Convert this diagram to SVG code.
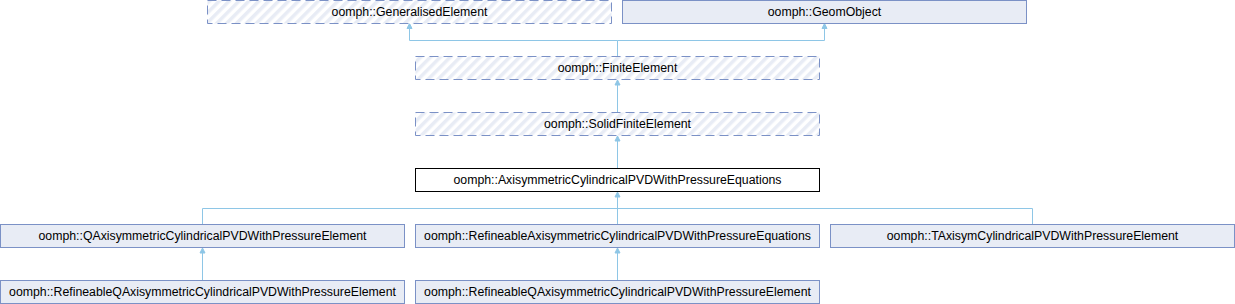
<svg xmlns="http://www.w3.org/2000/svg" width="1235" height="304" viewBox="0 0 1235 304">
<style>
.node{fill:#E8ECF5;stroke:#7B91C6;stroke-width:1}
.virt{fill:url(#hatch);stroke:#7B91C6;stroke-width:1;stroke-dasharray:9,5}
.main{fill:#FFFFFF;stroke:#000000;stroke-width:1}
.lbl{font-family:"Liberation Sans",Arial,sans-serif;font-size:12.3px;fill:#000000;text-anchor:middle}
.edge{fill:none;stroke:#8EC6E6;stroke-width:1}
.head{fill:#8EC6E6;stroke:#8EC6E6;stroke-width:1}
</style>
<defs>
<pattern id="hatch" patternUnits="userSpaceOnUse" width="7" height="7" patternTransform="rotate(45)">
<rect x="0" y="0" width="7" height="7" fill="#FFFFFF"/>
<rect x="0" y="0" width="3.5" height="7" fill="#E8ECF5"/>
</pattern>
</defs>
<g id="connectors">
<polyline class="edge" points="617.5,56.5 617.5,40.5 409.5,40.5 409.5,28"/>
<polygon class="head" points="409.5,23.5 407,28.5 412,28.5"/>
<polyline class="edge" points="617.5,40.5 824.5,40.5 824.5,28"/>
<polygon class="head" points="824.5,23.5 822,28.5 827,28.5"/>
<line class="edge" x1="617.5" y1="112.5" x2="617.5" y2="84.5"/>
<polygon class="head" points="617.5,80 615,85 620,85"/>
<line class="edge" x1="617.5" y1="168.5" x2="617.5" y2="140.5"/>
<polygon class="head" points="617.5,136 615,141 620,141"/>
<polyline class="edge" points="202.5,224.5 202.5,208.5 1032.5,208.5 1032.5,224.5"/>
<line class="edge" x1="617.5" y1="224.5" x2="617.5" y2="196.5"/>
<polygon class="head" points="617.5,192 615,197 620,197"/>
<line class="edge" x1="202.5" y1="280.5" x2="202.5" y2="252.5"/>
<polygon class="head" points="202.5,248 200,253 205,253"/>
<line class="edge" x1="617.5" y1="280.5" x2="617.5" y2="252.5"/>
<polygon class="head" points="617.5,248 615,253 620,253"/>
</g>
<g id="node_GeneralisedElement">
<rect class="virt" x="207.5" y="0.5" width="404" height="23"/>
<text class="lbl" x="409.5" y="16">oomph::GeneralisedElement</text>
</g>
<g id="node_GeomObject">
<rect class="node" x="622.5" y="0.5" width="404" height="23"/>
<text class="lbl" x="824.5" y="16">oomph::GeomObject</text>
</g>
<g id="node_FiniteElement">
<rect class="virt" x="415.5" y="56.5" width="404" height="23"/>
<text class="lbl" x="617.5" y="72">oomph::FiniteElement</text>
</g>
<g id="node_SolidFiniteElement">
<rect class="virt" x="415.5" y="112.5" width="404" height="23"/>
<text class="lbl" x="617.5" y="128">oomph::SolidFiniteElement</text>
</g>
<g id="node_AxisymmetricCylindricalPVDWithPressureEquations">
<rect class="main" x="415.5" y="168.5" width="404" height="23"/>
<text class="lbl" x="617.5" y="184">oomph::AxisymmetricCylindricalPVDWithPressureEquations</text>
</g>
<g id="node_QAxisymmetricCylindricalPVDWithPressureElement">
<rect class="node" x="0.5" y="224.5" width="404" height="23"/>
<text class="lbl" x="202.5" y="240">oomph::QAxisymmetricCylindricalPVDWithPressureElement</text>
</g>
<g id="node_RefineableAxisymmetricCylindricalPVDWithPressureEquations">
<rect class="node" x="415.5" y="224.5" width="404" height="23"/>
<text class="lbl" x="617.5" y="240">oomph::RefineableAxisymmetricCylindricalPVDWithPressureEquations</text>
</g>
<g id="node_TAxisymCylindricalPVDWithPressureElement">
<rect class="node" x="830.5" y="224.5" width="404" height="23"/>
<text class="lbl" x="1032.5" y="240">oomph::TAxisymCylindricalPVDWithPressureElement</text>
</g>
<g id="node_RefineableQAxisymmetricCylindricalPVDWithPressureElement_1">
<rect class="node" x="0.5" y="280.5" width="404" height="23"/>
<text class="lbl" x="202.5" y="296">oomph::RefineableQAxisymmetricCylindricalPVDWithPressureElement</text>
</g>
<g id="node_RefineableQAxisymmetricCylindricalPVDWithPressureElement_2">
<rect class="node" x="415.5" y="280.5" width="404" height="23"/>
<text class="lbl" x="617.5" y="296">oomph::RefineableQAxisymmetricCylindricalPVDWithPressureElement</text>
</g>
</svg>
